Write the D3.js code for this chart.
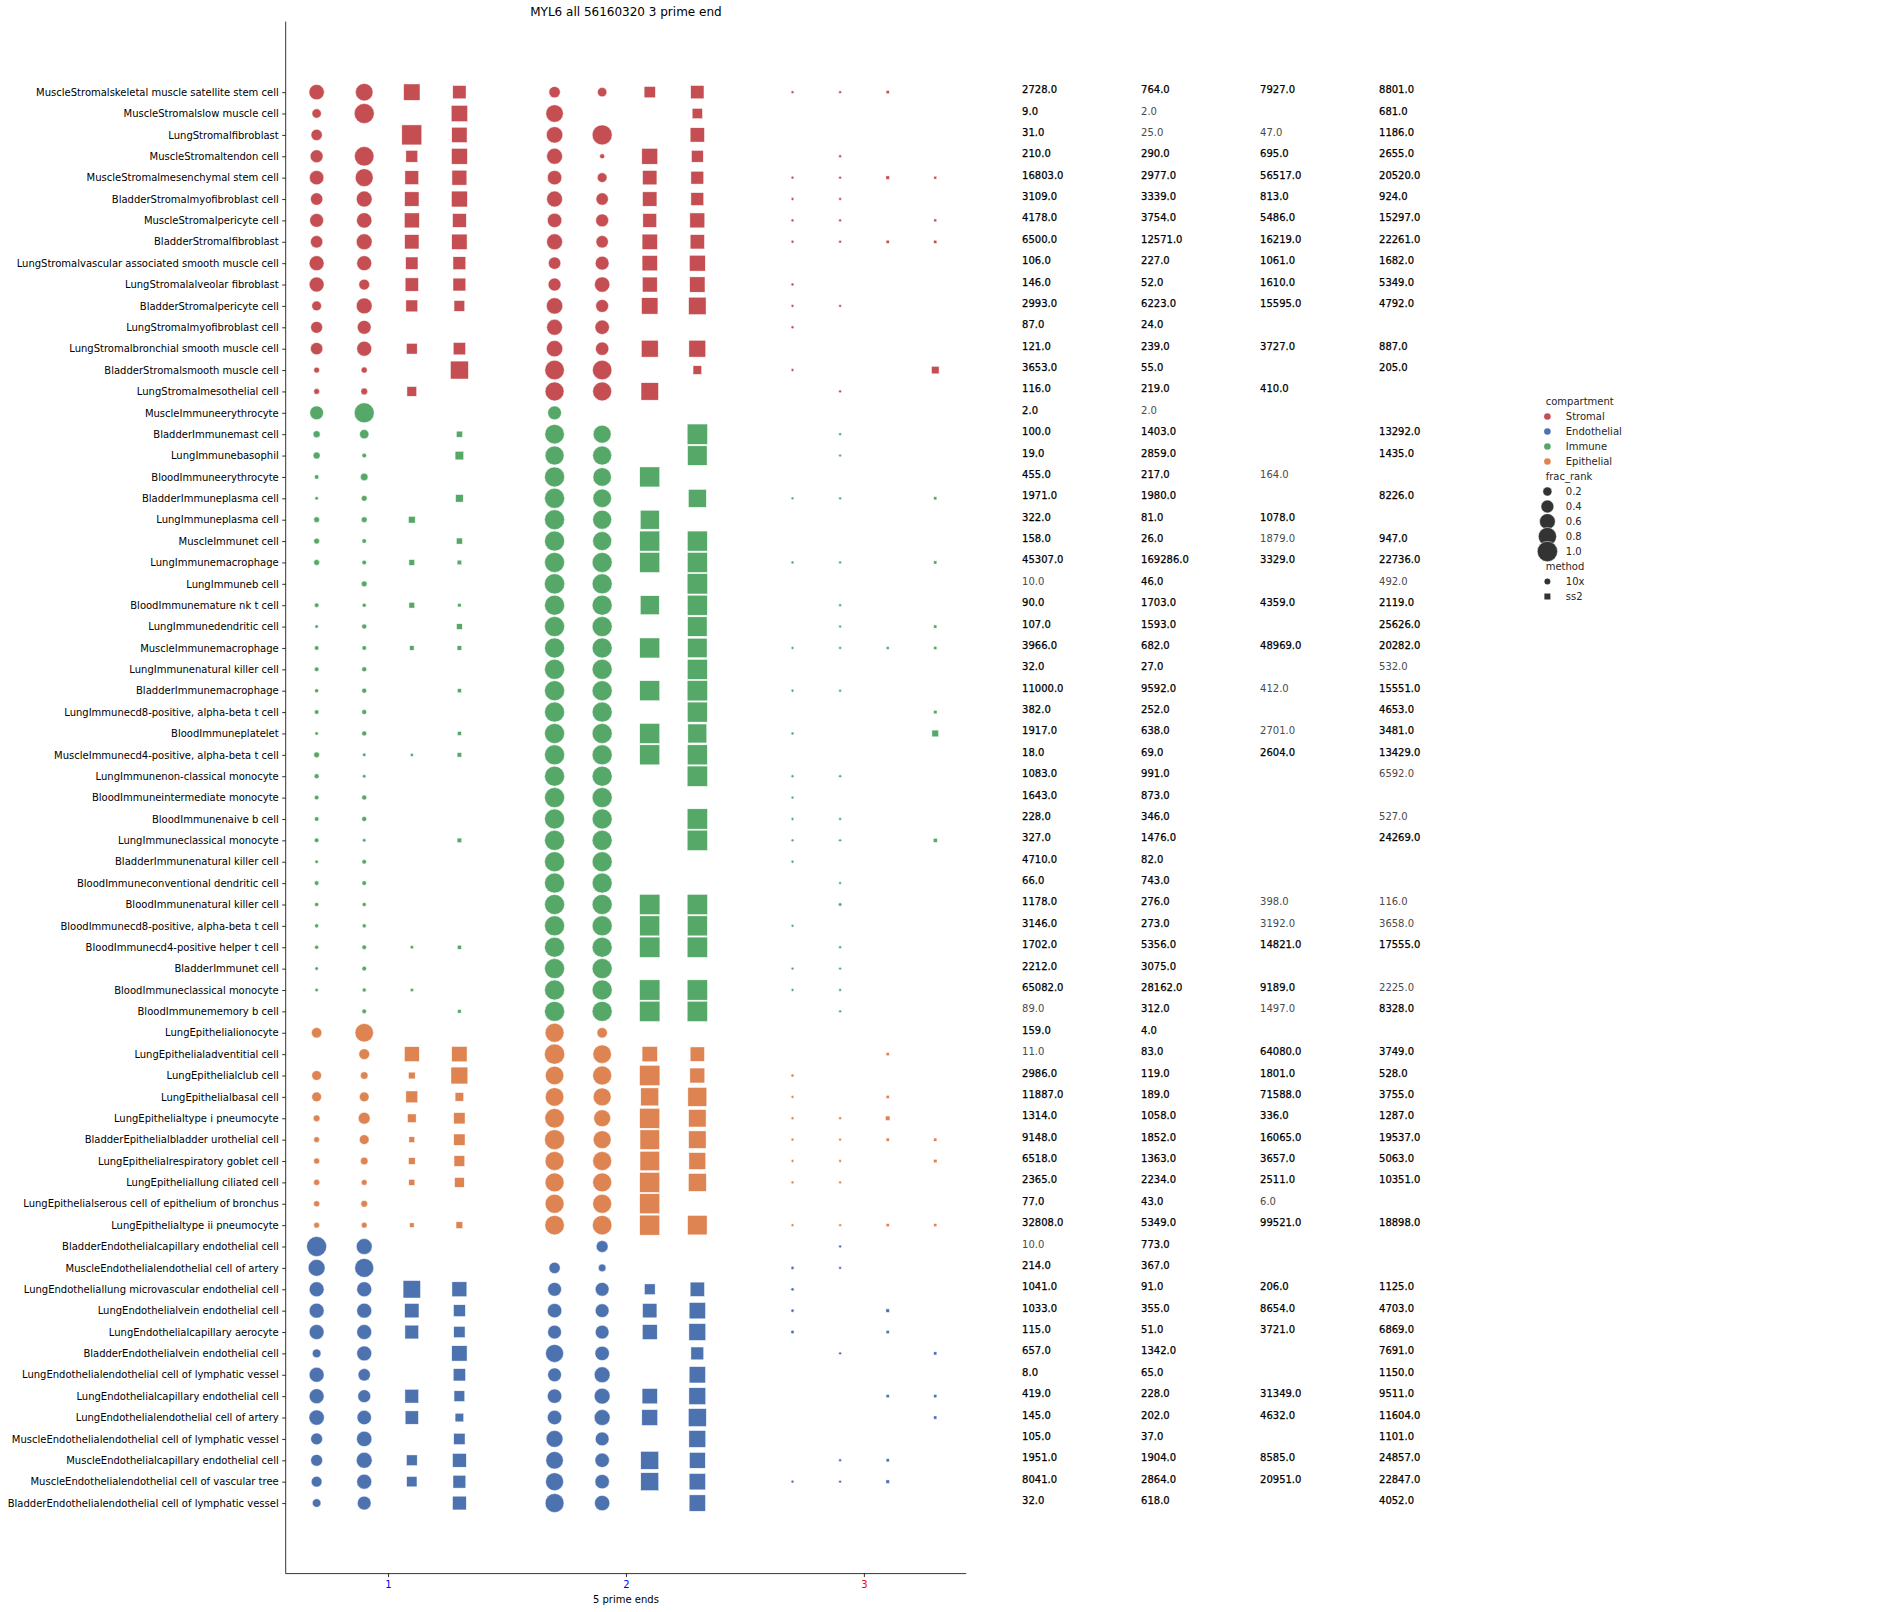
<!DOCTYPE html>
<html><head><meta charset="utf-8">
<script src="https://cdn.jsdelivr.net/npm/d3@7"></script>
<style>
body{margin:0;background:#fff}
svg text{font-family:"DejaVu Sans",sans-serif}
</style>
</head><body>
<svg id="chart" width="1882" height="1612"></svg>
<script>
// ---------------- DATA ----------------
const title = "MYL6 all 56160320 3 prime end";
const xLabel = "5 prime ends";
const xTickValues = [1, 2, 3];
const xTickColors = ["blue", "blue", "red"];
const compartmentOrder = ["Stromal", "Endothelial", "Immune", "Epithelial"];
const compartmentColors = ["#C44E52", "#4C72B0", "#55A868", "#DD8452"];
const sizeLegendValues = [0.2, 0.4, 0.6, 0.8, 1.0];
const methodNames = ["10x", "ss2"];
// sub-positions of the 12 markers in each row and their method
const subPositions = [0.7, 0.9, 1.1, 1.3, 1.7, 1.9, 2.1, 2.3, 2.7, 2.9, 3.1, 3.3];
const subMethods = ["10x","10x","ss2","ss2","10x","10x","ss2","ss2","10x","10x","ss2","ss2"];
// x positions of the four count columns (data units)
const countPositions = [3.665, 4.165, 4.665, 5.165];

const stromalCells = [
 "MuscleStromalskeletal muscle satellite stem cell","MuscleStromalslow muscle cell","LungStromalfibroblast",
 "MuscleStromaltendon cell","MuscleStromalmesenchymal stem cell","BladderStromalmyofibroblast cell",
 "MuscleStromalpericyte cell","BladderStromalfibroblast","LungStromalvascular associated smooth muscle cell",
 "LungStromalalveolar fibroblast","BladderStromalpericyte cell","LungStromalmyofibroblast cell",
 "LungStromalbronchial smooth muscle cell","BladderStromalsmooth muscle cell","LungStromalmesothelial cell"];
const immuneCells = [
 "MuscleImmuneerythrocyte","BladderImmunemast cell","LungImmunebasophil","BloodImmuneerythrocyte",
 "BladderImmuneplasma cell","LungImmuneplasma cell","MuscleImmunet cell","LungImmunemacrophage",
 "LungImmuneb cell","BloodImmunemature nk t cell","LungImmunedendritic cell","MuscleImmunemacrophage",
 "LungImmunenatural killer cell","BladderImmunemacrophage","LungImmunecd8-positive, alpha-beta t cell",
 "BloodImmuneplatelet","MuscleImmunecd4-positive, alpha-beta t cell","LungImmunenon-classical monocyte",
 "BloodImmuneintermediate monocyte","BloodImmunenaive b cell","LungImmuneclassical monocyte",
 "BladderImmunenatural killer cell","BloodImmuneconventional dendritic cell","BloodImmunenatural killer cell",
 "BloodImmunecd8-positive, alpha-beta t cell","BloodImmunecd4-positive helper t cell","BladderImmunet cell",
 "BloodImmuneclassical monocyte","BloodImmunememory b cell"];
const epithelialCells = [
 "LungEpithelialionocyte","LungEpithelialadventitial cell","LungEpithelialclub cell","LungEpithelialbasal cell",
 "LungEpithelialtype i pneumocyte","BladderEpithelialbladder urothelial cell","LungEpithelialrespiratory goblet cell",
 "LungEpitheliallung ciliated cell","LungEpithelialserous cell of epithelium of bronchus","LungEpithelialtype ii pneumocyte"];
const endothelialCells = [
 "BladderEndothelialcapillary endothelial cell","MuscleEndothelialendothelial cell of artery",
 "LungEndotheliallung microvascular endothelial cell","LungEndothelialvein endothelial cell",
 "LungEndothelialcapillary aerocyte","BladderEndothelialvein endothelial cell",
 "LungEndothelialendothelial cell of lymphatic vessel","LungEndothelialcapillary endothelial cell",
 "LungEndothelialendothelial cell of artery","MuscleEndothelialendothelial cell of lymphatic vessel",
 "MuscleEndothelialcapillary endothelial cell","MuscleEndothelialendothelial cell of vascular tree",
 "BladderEndothelialendothelial cell of lymphatic vessel"];

const n = null;
// frac_rank per row, 12 markers (order of subPositions)
const stromalFrac = [
 [0.57,0.74,0.65,0.43,0.31,0.21,0.31,0.43,0.02,0.02,0.025,n],
 [0.21,0.97,n,0.65,0.74,n,n,0.26,n,n,n,n],
 [0.31,n,0.97,0.57,0.65,0.97,n,0.50,n,n,n,n],
 [0.40,0.92,0.34,0.61,0.61,0.06,0.61,0.34,n,0.02,n,n],
 [0.50,0.78,0.46,0.54,0.50,0.23,0.50,0.40,0.02,0.02,0.03,0.02],
 [0.37,0.61,0.50,0.61,0.61,0.37,0.50,0.40,0.02,0.02,n,n],
 [0.46,0.57,0.54,0.46,0.50,0.40,0.46,0.54,0.02,0.02,n,0.02],
 [0.37,0.61,0.50,0.57,0.61,0.37,0.57,0.50,0.02,0.02,0.025,0.025],
 [0.54,0.54,0.37,0.40,0.37,0.46,0.57,0.61,n,n,n,n],
 [0.54,0.28,0.43,0.40,0.40,0.57,0.54,0.57,0.02,n,n,n],
 [0.23,0.61,0.34,0.28,0.65,0.40,0.65,0.74,0.02,0.02,n,n],
 [0.34,0.46,n,n,0.61,0.50,n,n,0.02,n,n,n],
 [0.37,0.54,0.28,0.37,0.65,0.43,0.69,0.69,n,n,n,n],
 [0.08,0.09,n,0.78,0.92,0.92,n,0.18,0.02,n,n,0.14],
 [0.08,0.11,0.23,n,0.87,0.87,0.74,n,n,0.02,n,n]];
const immuneFrac = [
 [0.46,0.97,n,n,0.46,n,n,n,n,n,n,n],
 [0.12,0.21,n,0.09,0.92,0.78,n,1.0,n,0.02,n,n],
 [0.12,0.05,n,0.18,0.87,0.87,n,0.92,n,0.02,n,n],
 [0.05,0.14,n,n,0.97,0.83,0.97,n,n,n,n,n],
 [0.03,0.08,n,0.14,0.97,0.83,n,0.78,0.02,0.02,n,0.025],
 [0.08,0.08,0.11,n,0.97,0.87,0.87,n,n,n,n,n],
 [0.08,0.05,n,0.09,0.97,0.87,0.97,0.97,n,n,n,n],
 [0.08,0.05,0.08,0.05,0.97,0.97,0.97,0.97,0.02,0.02,n,0.025],
 [n,0.08,n,n,1.0,0.97,n,1.0,n,n,n,n],
 [0.05,0.04,0.08,0.03,0.97,0.97,0.87,0.97,n,0.02,n,n],
 [0.03,0.06,n,0.08,0.97,0.97,n,0.92,n,0.02,n,0.025],
 [0.05,0.05,0.05,0.05,0.97,0.97,0.97,0.92,0.02,0.02,0.02,0.025],
 [0.05,0.06,n,n,0.97,0.97,n,0.97,n,n,n,n],
 [0.04,0.06,n,0.04,0.97,0.97,0.97,1.0,0.02,0.02,n,n],
 [0.05,0.06,n,n,0.97,0.97,n,0.97,n,n,n,0.03],
 [0.03,0.06,n,0.04,0.97,0.97,0.97,0.87,0.02,n,n,0.11],
 [0.08,0.03,0.02,0.05,0.97,0.97,0.97,0.97,n,n,n,n],
 [0.06,0.03,n,n,0.97,0.97,n,1.0,0.02,0.02,n,n],
 [0.05,0.06,n,n,0.97,0.97,n,n,0.02,n,n,n],
 [0.05,0.06,n,n,0.97,0.97,n,1.0,0.02,0.02,n,n],
 [0.05,0.03,n,0.05,0.97,0.97,n,1.0,0.02,0.02,n,0.04],
 [0.03,0.05,n,n,0.97,0.97,n,n,0.02,n,n,n],
 [0.05,0.05,n,n,0.97,0.97,n,n,n,0.02,n,n],
 [0.04,0.04,n,n,0.97,0.97,1.0,1.0,n,0.03,n,n],
 [0.04,0.04,n,n,0.97,0.97,0.97,0.97,0.02,n,n,n],
 [0.04,0.05,0.025,0.04,0.97,0.97,1.0,1.0,n,0.02,n,n],
 [0.03,0.05,n,n,0.97,0.97,n,n,0.02,0.02,n,n],
 [0.03,0.04,0.025,n,0.97,0.97,1.0,1.0,0.02,0.02,n,n],
 [n,0.05,n,0.03,0.97,0.97,1.0,1.0,n,0.02,n,n]];
const epithelialFrac = [
 [0.26,0.83,n,n,0.87,0.26,n,n,n,n,n,n],
 [n,0.28,0.54,0.57,1.0,0.83,0.57,0.50,n,n,0.025,n],
 [0.23,0.14,0.11,0.69,0.83,0.87,1.0,0.54,0.025,n,n,n],
 [0.23,0.23,0.34,0.18,0.83,0.78,0.78,0.87,0.02,n,0.025,n],
 [0.11,0.34,0.18,0.31,0.92,0.69,0.97,0.74,0.02,0.02,0.05,n],
 [0.08,0.23,0.08,0.31,0.97,0.78,0.92,0.74,0.02,0.02,0.025,0.025],
 [0.09,0.14,0.11,0.28,0.87,0.87,0.92,0.69,0.02,0.02,n,0.03],
 [0.09,0.08,0.09,0.23,0.87,0.87,0.97,0.78,0.02,0.02,n,n],
 [0.09,0.11,n,n,0.87,0.87,0.97,n,n,n,n,n],
 [0.08,0.08,0.05,0.11,0.92,0.92,0.97,0.92,0.02,0.02,0.025,0.025]];
const endothelialFrac = [
 [0.97,0.61,n,n,n,0.34,n,n,n,0.02,n,n],
 [0.69,0.87,n,n,0.31,0.14,n,n,0.025,0.02,n,n],
 [0.54,0.54,0.74,0.54,0.46,0.46,0.28,0.50,0.025,n,n,n],
 [0.54,0.54,0.50,0.34,0.50,0.46,0.50,0.65,0.025,n,0.03,n],
 [0.54,0.54,0.46,0.31,0.46,0.46,0.54,0.69,0.03,n,0.025,n],
 [0.18,0.54,n,0.57,0.78,0.50,n,0.40,n,0.02,n,0.025],
 [0.54,0.37,n,0.37,0.46,0.61,n,0.65,n,n,n,n],
 [0.54,0.40,0.46,0.28,0.50,0.61,0.57,0.69,n,n,0.025,0.025],
 [0.57,0.50,0.43,0.18,0.50,0.61,0.61,0.78,n,n,n,0.025],
 [0.34,0.57,n,0.31,0.69,0.46,n,0.69,n,n,n,n],
 [0.34,0.61,0.28,0.46,0.74,0.50,0.78,0.61,n,0.02,0.025,n],
 [0.28,0.54,0.26,0.40,0.78,0.50,0.78,0.65,0.02,0.02,0.03,n],
 [0.18,0.46,n,0.46,0.87,0.57,n,0.65,n,n,n,n]];

// cell counts shown at the right (4 columns)
const stromalCounts = [
 [2728,764,7927,8801],[9,2,n,681],[31,25,47,1186],[210,290,695,2655],[16803,2977,56517,20520],
 [3109,3339,813,924],[4178,3754,5486,15297],[6500,12571,16219,22261],[106,227,1061,1682],
 [146,52,1610,5349],[2993,6223,15595,4792],[87,24,n,n],[121,239,3727,887],[3653,55,n,205],[116,219,410,n]];
const immuneCounts = [
 [2,2,n,n],[100,1403,n,13292],[19,2859,n,1435],[455,217,164,n],[1971,1980,n,8226],[322,81,1078,n],
 [158,26,1879,947],[45307,169286,3329,22736],[10,46,n,492],[90,1703,4359,2119],[107,1593,n,25626],
 [3966,682,48969,20282],[32,27,n,532],[11000,9592,412,15551],[382,252,n,4653],[1917,638,2701,3481],
 [18,69,2604,13429],[1083,991,n,6592],[1643,873,n,n],[228,346,n,527],[327,1476,n,24269],[4710,82,n,n],
 [66,743,n,n],[1178,276,398,116],[3146,273,3192,3658],[1702,5356,14821,17555],[2212,3075,n,n],
 [65082,28162,9189,2225],[89,312,1497,8328]];
const epithelialCounts = [
 [159,4,n,n],[11,83,64080,3749],[2986,119,1801,528],[11887,189,71588,3755],[1314,1058,336,1287],
 [9148,1852,16065,19537],[6518,1363,3657,5063],[2365,2234,2511,10351],[77,43,6,n],[32808,5349,99521,18898]];
const endothelialCounts = [
 [10,773,n,n],[214,367,n,n],[1041,91,206,1125],[1033,355,8654,4703],[115,51,3721,6869],[657,1342,n,7691],
 [8,65,n,1150],[419,228,31349,9511],[145,202,4632,11604],[105,37,n,1101],[1951,1904,8585,24857],
 [8041,2864,20951,22847],[32,618,n,4052]];
// [row, column] of counts printed in a lighter tone
const lightCounts = [[1,1],[2,1],[2,2],[15,1],[18,2],[21,2],[23,0],[23,3],[27,3],[28,2],[30,2],[32,3],
 [34,3],[38,2],[38,3],[39,2],[39,3],[42,3],[43,0],[43,2],[45,0],[52,2],[54,0]];

// ---------------- BUILD ----------------
const groups = [
 {comp:"Stromal", cells:stromalCells, frac:stromalFrac, counts:stromalCounts},
 {comp:"Immune", cells:immuneCells, frac:immuneFrac, counts:immuneCounts},
 {comp:"Epithelial", cells:epithelialCells, frac:epithelialFrac, counts:epithelialCounts},
 {comp:"Endothelial", cells:endothelialCells, frac:endothelialFrac, counts:endothelialCounts}];
const rows = [];
groups.forEach(g => g.cells.forEach((c, i) => rows.push({cell:c, comp:g.comp, frac:g.frac[i], counts:g.counts[i]})));
const categories = rows.map(r => r.cell);
const lightSet = new Set(lightCounts.map(d => d[0] + "_" + d[1]));

const color = d3.scaleOrdinal().domain(compartmentOrder).range(compartmentColors);
const sizeScale = d3.scaleSqrt().domain([0, 1]).range([0, 20.3]);

const L = 285.7, R = 966.2, T = 21.6, B = 1573.6;
const nRows = categories.length;
const pad = (nRows - 1) * 0.05;
const x = d3.scaleLinear().domain([0.57, 3.43]).range([L, R]);
const y = d3.scaleLinear().domain([-pad, nRows - 1 + pad]).range([T, B]);

const svg = d3.select("#chart");

// marks
const marks = [];
rows.forEach((r, i) => r.frac.forEach((v, j) => {
  if (v == null) return;
  marks.push({row:i, x:subPositions[j], method:subMethods[j], v:v, comp:r.comp});
}));
const gm = svg.append("g");
gm.selectAll("circle").data(marks.filter(m => m.method === "10x")).join("circle")
  .attr("cx", d => x(d.x)).attr("cy", d => y(d.row)).attr("r", d => sizeScale(d.v) / 2)
  .attr("fill", d => color(d.comp)).attr("stroke", "#fff").attr("stroke-width", 0.5);
gm.selectAll("rect").data(marks.filter(m => m.method === "ss2")).join("rect")
  .attr("x", d => x(d.x) - sizeScale(d.v) / 2).attr("y", d => y(d.row) - sizeScale(d.v) / 2)
  .attr("width", d => sizeScale(d.v)).attr("height", d => sizeScale(d.v))
  .attr("fill", d => color(d.comp)).attr("stroke", "#fff").attr("stroke-width", 0.5);

// count texts
const texts = [];
rows.forEach((r, i) => r.counts.forEach((c, j) => {
  if (c == null) return;
  texts.push({row:i, col:j, val:c, light:lightSet.has(i + "_" + j)});
}));
svg.append("g").selectAll("text").data(texts).join("text")
  .attr("x", d => x(countPositions[d.col])).attr("y", d => y(d.row) + 1)
  .attr("font-size", 10)
  .attr("fill", d => d.light ? "#4a4a4a" : "#000")
  .attr("stroke", d => d.light ? "none" : "#000").attr("stroke-width", 0.25)
  .text(d => d.val.toFixed(1));

// axes
const yAxis = d3.axisLeft(y).tickValues(d3.range(nRows)).tickFormat(i => categories[i])
  .tickSize(3.5).tickPadding(3.5).tickSizeOuter(0);
const gy = svg.append("g").attr("transform", `translate(${L},0)`).call(yAxis);
gy.select(".domain").attr("d", `M0,${T}V${B}`).attr("stroke", "#000").attr("stroke-width", 0.8);
gy.selectAll(".tick line").attr("stroke", "#000").attr("stroke-width", 0.8);
gy.selectAll(".tick text").attr("font-family", "DejaVu Sans").attr("font-size", 10).attr("fill", "#000");

const xAxis = d3.axisBottom(x).tickValues(xTickValues).tickFormat(d3.format("d"))
  .tickSize(3.5).tickPadding(3.5).tickSizeOuter(0);
const gx = svg.append("g").attr("transform", `translate(0,${B})`).call(xAxis);
gx.select(".domain").attr("d", `M${L},0H${R}`).attr("stroke", "#000").attr("stroke-width", 0.8);
gx.selectAll(".tick line").attr("stroke", "#000").attr("stroke-width", 0.8);
gx.selectAll(".tick text").attr("font-family", "DejaVu Sans").attr("font-size", 10)
  .attr("fill", (d, i) => xTickColors[i]);

svg.append("text").attr("x", (L + R) / 2).attr("y", 1602.6).attr("text-anchor", "middle")
  .attr("font-size", 10).attr("fill", "#000").text(xLabel);
svg.append("text").attr("x", (L + R) / 2).attr("y", 16).attr("text-anchor", "middle")
  .attr("font-size", 12).attr("fill", "#000").text(title);

// legend
const lg = svg.append("g");
const lx0 = 1545.7, mx = 1547.4, tx = 1565.8, ly0 = 401.5, step = 15;
let k = 0;
const addTitle = t => { lg.append("text").attr("x", lx0).attr("y", ly0 + step * k + 3.6).attr("font-size", 10).attr("fill", "#262626").text(t); k++; };
const addLabel = t => lg.append("text").attr("x", tx).attr("y", ly0 + step * k + 3.6).attr("font-size", 10).attr("fill", "#262626").text(t);
addTitle("compartment");
compartmentOrder.forEach(c => {
  lg.append("circle").attr("cx", mx).attr("cy", ly0 + step * k).attr("r", 3.3).attr("fill", color(c));
  addLabel(c); k++;
});
addTitle("frac_rank");
sizeLegendValues.forEach(v => {
  lg.append("circle").attr("cx", mx).attr("cy", ly0 + step * k).attr("r", sizeScale(v) / 2)
    .attr("fill", "#333").attr("stroke", "#fff").attr("stroke-width", 0.5);
  addLabel(v.toFixed(1)); k++;
});
addTitle("method");
methodNames.forEach(m => {
  const cy = ly0 + step * k;
  if (m === "10x") lg.append("circle").attr("cx", mx).attr("cy", cy).attr("r", 3).attr("fill", "#333");
  else lg.append("rect").attr("x", mx - 3).attr("y", cy - 3).attr("width", 6).attr("height", 6).attr("fill", "#333");
  addLabel(m); k++;
});
</script>
</body></html>
